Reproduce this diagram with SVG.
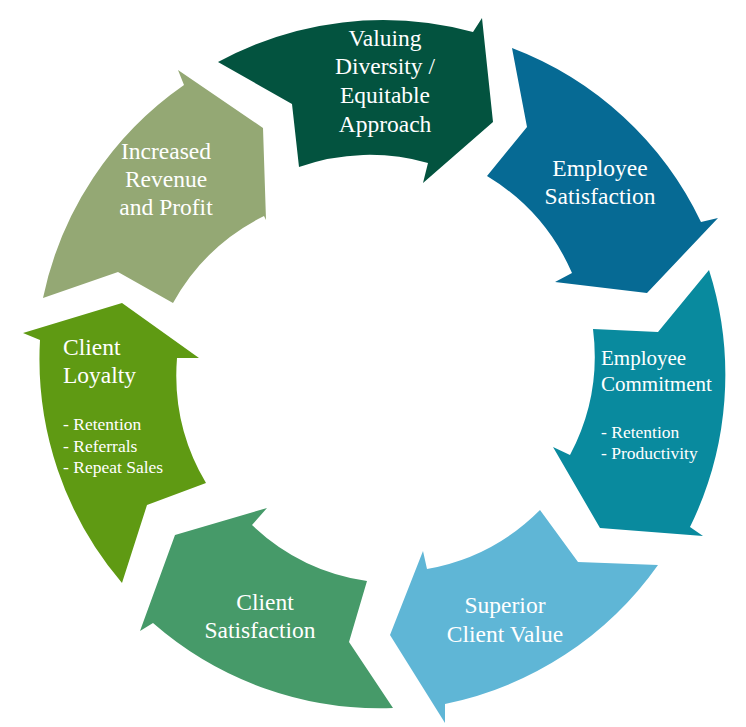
<svg xmlns="http://www.w3.org/2000/svg" width="746" height="727" viewBox="0 0 746 727">
<style>
text{font-family:"Liberation Serif","Times New Roman",serif;fill:#ffffff;}
.m{font-size:23.5px;}
.c{text-anchor:middle;}
.s{font-size:21px;}
.b{font-size:17.5px;}
</style>
<rect width="746" height="727" fill="#ffffff"/>
<g id="valuing-diversity">
<path d="M218,62 A345,345 0 0 1 473,32 L482,18 L493,122 L423,183 L428,163 A212,212 0 0 0 299,167 L292,104 Z" fill="#03533F"/>
<text class="m c" x="385" y="45.5">Valuing</text>
<text class="m c" x="385" y="74">Diversity /</text>
<text class="m c" x="385" y="103">Equitable</text>
<text class="m c" x="385" y="131.5">Approach</text>
</g>
<g id="employee-satisfaction">
<path d="M512,48 A345,345 0 0 1 701,222 L718,218 L647,293 L555,282 L572,273 A212,212 0 0 0 487,176 L527,127 Z" fill="#066A94"/>
<text class="m c" x="600" y="176">Employee</text>
<text class="m c" x="600" y="204">Satisfaction</text>
</g>
<g id="employee-commitment">
<path d="M709,270 A345,345 0 0 1 690,527 L703,536 L600,528 L553,447 L570,455 A212,212 0 0 0 593,329 L658,332 Z" fill="#098A9E"/>
<text class="s" x="601" y="364.5">Employee</text>
<text class="s" x="601" y="390.5">Commitment</text>
<text class="b" x="601" y="438">- Retention</text>
<text class="b" x="601" y="459">- Productivity</text>
</g>
<g id="superior-client-value">
<path d="M658,565 A345,345 0 0 1 445,704 L445,723 L390,635 L423,551 L427,569 A212,212 0 0 0 540,510 L578,562 Z" fill="#5FB6D6"/>
<text class="m c" x="505" y="612.5">Superior</text>
<text class="m c" x="505" y="641.5">Client Value</text>
</g>
<g id="client-satisfaction">
<path d="M393,708 A345,345 0 0 1 153,623 L140,631 L175,535 L267,508 L252,525 A212,212 0 0 0 367,581 L349,642 Z" fill="#469A69"/>
<text class="m c" x="265" y="610">Client</text>
<text class="m c" x="260" y="638">Satisfaction</text>
</g>
<g id="client-loyalty">
<path d="M122,583 A345,345 0 0 1 40,340 L23,333 L122,303 L199,358 L177,358 A212,212 0 0 0 206,483 L147,505 Z" fill="#5F9A13"/>
<text class="m" x="63" y="354.5">Client</text>
<text class="m" x="63" y="382.5">Loyalty</text>
<text class="b" x="63" y="429.5">- Retention</text>
<text class="b" x="63" y="451.5">- Referrals</text>
<text class="b" x="63" y="473">- Repeat Sales</text>
</g>
<g id="increased-revenue">
<path d="M43,298 A345,345 0 0 1 184,85 L178,70 L263,128 L266,220 L264,216 A212,212 0 0 0 173,303 L118,272 Z" fill="#94A874"/>
<text class="m c" x="166" y="159">Increased</text>
<text class="m c" x="166" y="187">Revenue</text>
<text class="m c" x="166" y="215">and Profit</text>
</g>
<g id="connectors"></g>
</svg>
